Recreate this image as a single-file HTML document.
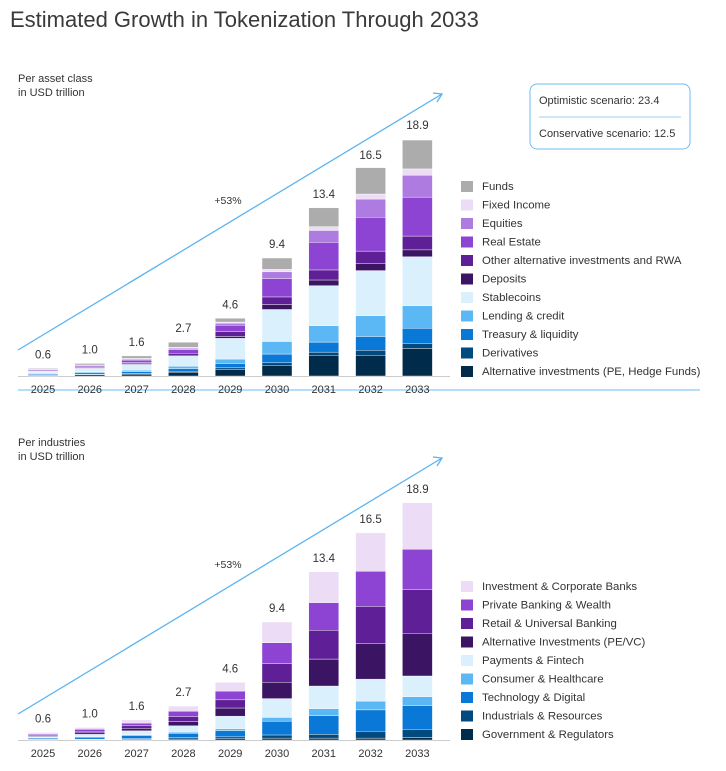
<!DOCTYPE html>
<html><head><meta charset="utf-8"><style>
body{margin:0;background:#fff;font-family:"Liberation Sans",sans-serif;}
svg text{font-family:"Liberation Sans",sans-serif;}
</style></head><body>
<svg id="c" width="726" height="766">
<text x="10" y="27" font-size="22" fill="#3a3a3a">Estimated Growth in Tokenization Through 2033</text>
<text x="18" y="82" font-size="11" fill="#333">Per asset class</text>
<text x="18" y="96" font-size="11" fill="#333">in USD trillion</text>
<text x="18" y="446" font-size="11" fill="#333">Per industries</text>
<text x="18" y="460" font-size="11" fill="#333">in USD trillion</text>
<line x1="18" y1="390" x2="700" y2="390" stroke="#6cbdf2" stroke-width="1"/>
<g>
<rect x="530" y="84" width="160" height="65" rx="7" fill="#fff" stroke="#6cbdf2"/>
<text x="539" y="104" font-size="11" fill="#333">Optimistic scenario: 23.4</text>
<line x1="539" y1="117" x2="681" y2="117" stroke="#9ad0f5"/>
<text x="539" y="137" font-size="11" fill="#333">Conservative scenario: 12.5</text>
</g>
</svg>
<script>
const years=["2025","2026","2027","2028","2029","2030","2031","2032","2033"];
const totals=[0.6,1.0,1.6,2.7,4.6,9.4,13.4,16.5,18.9];
const assetNames=["Alternative investments (PE, Hedge Funds)","Derivatives","Treasury & liquidity","Lending & credit","Stablecoins","Deposits","Other alternative investments and RWA","Real Estate","Equities","Fixed Income","Funds"];
const assetColors=["#002b4a","#004a80","#0a78d6","#5cb8f5","#daf0fd","#3c1464","#5f1f96","#8d44d2","#ae7be0","#ecdcf6","#acacac"];
const assetAlt=[0.05,0.10,0.15,0.30,0.50,0.85,1.65,1.65,2.2];
const assetDeriv=[0.02,0.03,0.05,0.08,0.15,0.2,0.25,0.4,0.4];
const assetTreas=[0.07,0.12,0.15,0.2,0.35,0.7,0.8,1.1,1.2];
const assetLend=[0.06,0.08,0.12,0.2,0.35,1.0,1.3,1.65,1.8];
const assetStable=[0.12,0.25,0.45,0.8,1.65,2.55,3.2,3.6,3.9];
const assetDep=[0.02,0.03,0.05,0.08,0.15,0.4,0.45,0.55,0.55];
const assetOther=[0.04,0.06,0.1,0.15,0.4,0.6,0.8,1.0,1.1];
const assetRE=[0.08,0.12,0.2,0.3,0.5,1.45,2.2,2.7,3.1];
const assetEq=[0.04,0.06,0.08,0.1,0.15,0.55,0.95,1.45,1.75];
const assetFixed=[0.02,0.03,0.05,0.08,0.1,0.2,0.3,0.4,0.5];
const assetFunds=[0.08,0.12,0.2,0.4,0.3,0.9,1.5,2.1,2.3];
const assetSeries=[assetAlt,assetDeriv,assetTreas,assetLend,assetStable,assetDep,assetOther,assetRE,assetEq,assetFixed,assetFunds];
const indNames=["Government & Regulators","Industrials & Resources","Technology & Digital","Consumer & Healthcare","Payments & Fintech","Alternative Investments (PE/VC)","Retail & Universal Banking","Private Banking & Wealth","Investment & Corporate Banks"];
const indColors=["#002b4a","#004a80","#0a78d6","#5cb8f5","#daf0fd","#3c1464","#5f1f96","#8d44d2","#ecdcf6"];
const indGov=[0.02,0.03,0.05,0.08,0.1,0.15,0.15,0.15,0.2];
const indInd=[0.03,0.04,0.06,0.1,0.15,0.25,0.3,0.55,0.65];
const indTech=[0.1,0.15,0.25,0.35,0.5,1.1,1.5,1.7,1.9];
const indCons=[0.03,0.05,0.07,0.1,0.15,0.3,0.55,0.7,0.7];
const indPay=[0.1,0.18,0.3,0.5,1.0,1.5,1.8,1.75,1.65];
const indAltInv=[0.07,0.12,0.2,0.35,0.65,1.3,2.15,2.85,3.4];
const indRetail=[0.08,0.13,0.2,0.4,0.65,1.5,2.3,2.95,3.5];
const indPriv=[0.08,0.15,0.22,0.42,0.7,1.65,2.2,2.8,3.2];
const indIcb=[0.09,0.15,0.25,0.4,0.7,1.65,2.45,3.05,3.7];
const indSeries=[indGov,indInd,indTech,indCons,indPay,indAltInv,indRetail,indPriv,indIcb];

const svg=document.getElementById('c');
const NS="http://www.w3.org/2000/svg";
function mk(t,a,p){const e=document.createElementNS(NS,t);for(const k in a)e.setAttribute(k,a[k]);(p||svg).appendChild(e);return e;}
const xPos=i=>43+i*46.8;
const BW=30;
function drawPanel(base,series,colors,names,legTop,label){
  const y=v=>v*12.55;
  const g=mk('g',{});
  
  
  mk('line',{x1:18,y1:base+0.5,x2:450,y2:base+0.5,stroke:'#ccc'},g);
  mk('line',{x1:18,y1:base-26,x2:442,y2:base-282,stroke:'#5ab4f0','stroke-width':1.3},g);
  mk('path',{d:`M${442-9} ${base-282-1} L442 ${base-282} L${442-5} ${base-282+8}`,fill:'none',stroke:'#5ab4f0','stroke-width':1.3},g);
  const gt=mk('text',{x:228,y:base-172,'font-size':10.5,fill:'#333','text-anchor':'middle'},g);gt.textContent='+53%';
  
  
  years.forEach((yr,i)=>{
    let acc=0;
    series.forEach((s,k)=>{
      const h=y(s[i]);
      const r=mk('rect',{x:xPos(i)-BW/2,y:base-y(acc)-h,width:BW,height:Math.max(h,0),fill:colors[k],stroke:'#fff','stroke-width':0.4},g);
      
      
      acc+=s[i];
    });
    const t=mk('text',{x:xPos(i),y:base-y(totals[i])-10,'font-size':11.5,fill:'#333','text-anchor':'middle'},g);t.textContent=totals[i].toFixed(1);
    
    
    const l=mk('text',{x:xPos(i),y:base+17,'font-size':11,fill:'#333','text-anchor':'middle'},g);l.textContent=yr;
    
    
  });
  const n=names.length;
  names.forEach((nm,k)=>{
    const ry=legTop+(n-1-k)*18.5;
    const lg=mk('g',{},g);
    
    
    mk('rect',{x:461,y:ry-5,width:12,height:11,fill:colors[k]},lg);
    const t=mk('text',{x:482,y:ry+4,'font-size':11.4,fill:'#333'},lg);t.textContent=nm;
  });
}
drawPanel(376,assetSeries,assetColors,assetNames,186,'asset');
drawPanel(740,indSeries,indColors,indNames,586,'industry');
</script>
</body></html>
